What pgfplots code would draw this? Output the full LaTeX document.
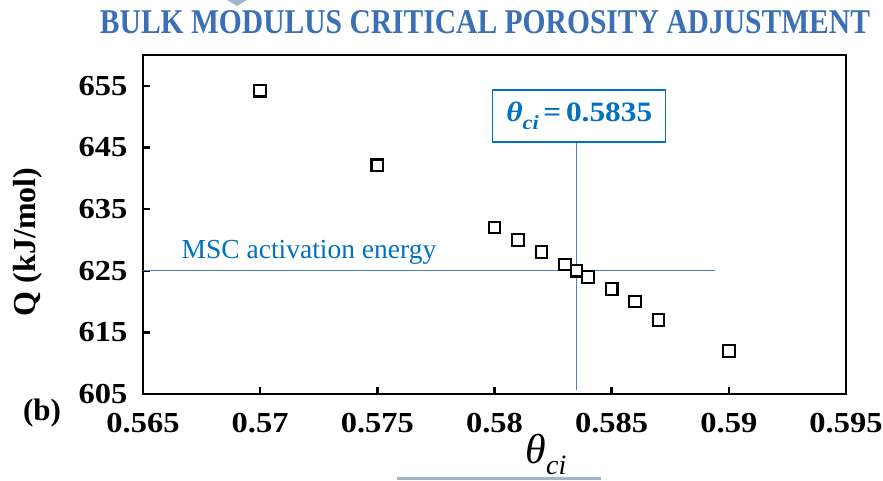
\documentclass[border=0pt]{standalone}
\usepackage{pgfplots}
\pgfplotsset{compat=1.18}
\usepackage{fontspec}
\setmainfont{Liberation Serif}
\newfontfamily\tickfont{Liberation Serif}[FakeStretch=1.12]
\definecolor{lineblue}{HTML}{4F81BD}
\definecolor{txtblue}{HTML}{0070C0}
\definecolor{titleblue}{HTML}{3B6FB6}
\definecolor{decor}{HTML}{A3B5CC}
\begin{document}
\begin{tikzpicture}[x=1pt,y=1pt]
\path[use as bounding box] (0,0) rectangle (883,480);
% decorations
\fill[decor] (227,480) -- (247,480) -- (237,474) -- cycle;
\draw[decor, line width=3pt] (397,1.5) -- (601,1.5);
\node[titleblue] at (485,446) [anchor=base] {\resizebox{770pt}{23pt}{\bfseries BULK MODULUS CRITICAL POROSITY ADJUSTMENT}};
\begin{axis}[
  at={(143pt,86pt)}, anchor=south west,
  width=703pt, height=339pt, scale only axis,
  xmin=0.565, xmax=0.595, ymin=605, ymax=660,
  xtick={0.565,0.57,0.575,0.58,0.585,0.59,0.595},
  xticklabels={0.565,0.57,0.575,0.58,0.585,0.59,0.595},
  ytick={605,615,625,635,645,655},
  yticklabels={605,615,625,635,645,655},
  xtick pos=bottom, ytick pos=left, tick align=inside,
  major tick length=7pt,
  every tick/.style={black, line width=2.4pt},
  axis line style={black, line width=2.8pt},
  ticklabel style={font=\tickfont\fontsize{29}{32}\selectfont\bfseries},
  xticklabel style={yshift=-16pt},
  yticklabel style={xshift=-12pt},
  clip=false,
]
\addplot[lineblue, line width=1.2pt] coordinates {(0.565,625) (0.5894,625)};
\addplot[lineblue, line width=1.2pt] coordinates {(0.5835,605.6) (0.5835,645.9)};
\addplot[only marks, mark=square*, mark size=5.8pt, mark options={draw=black, fill=white, line width=2.1pt}]
 coordinates {
 (0.570,654.2) (0.575,642.1) (0.580,632) (0.581,630) (0.582,628)
 (0.583,626) (0.5835,625) (0.584,624) (0.585,622) (0.586,620)
 (0.587,617) (0.590,612)
 };
\draw[black, line width=2.8pt] (rel axis cs:0,1) -- (rel axis cs:1,1) -- (rel axis cs:1,0);
\node[anchor=base west, text=txtblue, font=\fontsize{27.5}{30}\selectfont] at (axis cs:0.5665,625) [yshift=12pt] {MSC activation energy};
\node[draw=txtblue, line width=1.3pt, fill=white, minimum width=173pt, minimum height=52pt, inner sep=0pt, text=txtblue,
      font=\tickfont\fontsize{28}{30}\selectfont\bfseries] at (axis cs:0.58362,650.1)
  {\textit{θ}\raisebox{-0.3em}{\fontsize{20}{22}\selectfont\textit{ci}}\,=\,0.5835};
\end{axis}
\node[rotate=90, font=\fontsize{32}{35}\selectfont\bfseries] at (28,238) {Q (kJ/mol)};
\node[font=\fontsize{31}{34}\selectfont\bfseries] at (42,67) {(b)};
\node[anchor=base] at (546,17) {\fontsize{42}{44}\selectfont\textit{θ}\raisebox{-0.28em}{\fontsize{28}{30}\selectfont\textit{ci}}};
\end{tikzpicture}
\end{document}
